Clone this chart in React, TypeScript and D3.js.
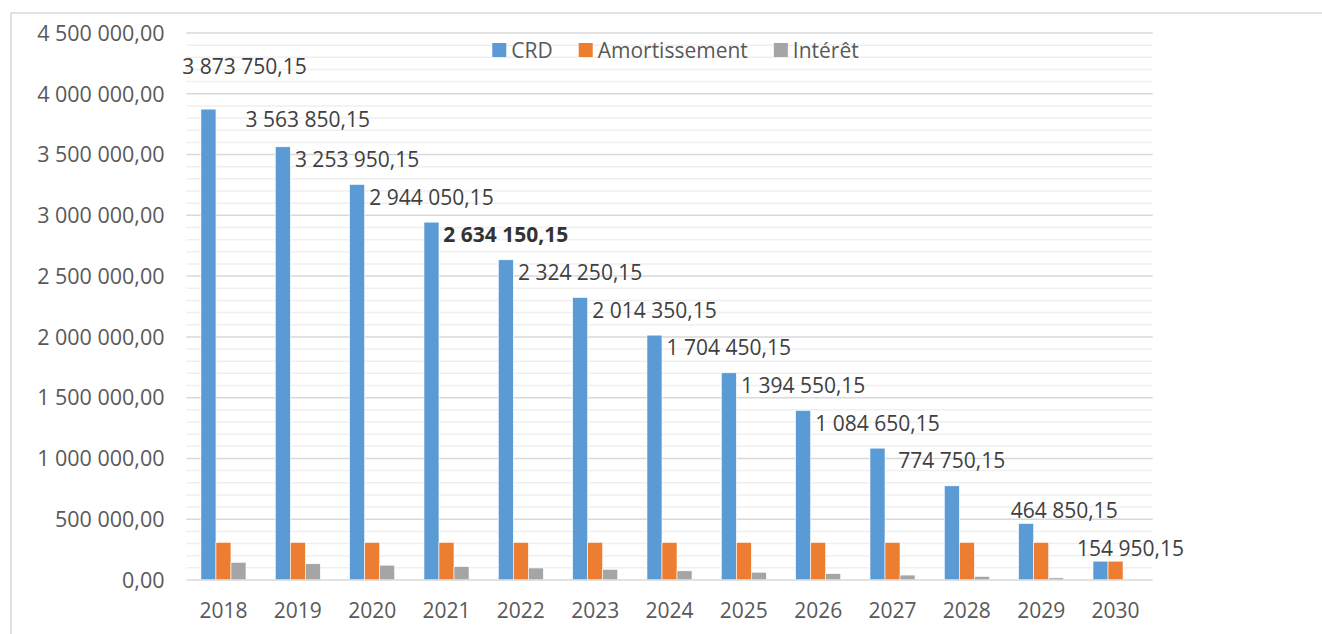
import * as d3 from "d3";
import React, {useEffect, useRef} from "react";

const years = ["2018", "2019", "2020", "2021", "2022", "2023", "2024", "2025", "2026", "2027", "2028", "2029", "2030"];
const crd = [3873750.15, 3563850.15, 3253950.15, 2944050.15, 2634150.15, 2324250.15, 2014350.15, 1704450.15, 1394550.15, 1084650.15, 774750.15, 464850.15, 154950.15];
const amortissement = [309900, 309900, 309900, 309900, 309900, 309900, 309900, 309900, 309900, 309900, 309900, 309900, 154950.15];
const interet = [145300, 133600, 122000, 110400, 98800, 87200, 75500, 63900, 52300, 40700, 29100, 17400, 5800];
const seriesNames = ["CRD", "Amortissement", "Intérêt"];
const seriesColors = ["#5B9BD5", "#ED7D31", "#A5A5A5"];

// labels that were dragged by hand in the original sheet
const labelNudge: Record<string, [number, number]> = {
    "2018": [36, -18],
    "2019": [25, -2],
    "2029": [38, 12],
    "2030": [30, 12]
};
const boldLabel = "2022";

const W = 1322;
const H = 634;
const FONT = "'Open Sans', sans-serif";

const App = () => {
    const ref = useRef<SVGSVGElement>(null);

    useEffect(() => {
        const svg = d3.select(ref.current);
        svg.selectAll("*").remove();

        const left = 186.3, right = 1152.7, top = 33, bottom = 580;

        const fr = d3.formatLocale({decimal: ",", thousands: "\u00a0", grouping: [3], currency: ["", ""]});
        const fmt = fr.format(",.2f");

        const x0 = d3.scaleBand<string>()
            .domain(years)
            .range([left, right])
            .paddingInner(0.394)
            .paddingOuter(0.197);
        const x1 = d3.scaleBand<string>()
            .domain(seriesNames)
            .range([0, x0.bandwidth()]);
        const y = d3.scaleLinear().domain([0, 4500000]).range([bottom, top]);

        // outer border
        svg.append("rect")
            .attr("x", 11).attr("y", 13)
            .attr("width", W + 100).attr("height", H + 100)
            .attr("fill", "white")
            .attr("stroke", "#d9d9d9")
            .attr("stroke-width", 1.5);

        // minor grid
        svg.append("g")
            .selectAll("line")
            .data(d3.range(0, 4500001, 100000).filter(v => v % 500000 !== 0))
            .join("line")
            .attr("x1", left).attr("x2", right)
            .attr("y1", d => y(d)).attr("y2", d => y(d))
            .attr("stroke", "#efefef")
            .attr("stroke-width", 1.5);

        // major grid
        const majorTicks = d3.range(0, 4500001, 500000);
        svg.append("g")
            .selectAll("line")
            .data(majorTicks.filter(v => v > 0))
            .join("line")
            .attr("x1", left).attr("x2", right)
            .attr("y1", d => y(d)).attr("y2", d => y(d))
            .attr("stroke", "#d9d9d9")
            .attr("stroke-width", 1.5);

        // y tick labels
        svg.append("g")
            .selectAll("text")
            .data(majorTicks)
            .join("text")
            .attr("x", 164.5)
            .attr("y", d => y(d) + 7.8)
            .attr("text-anchor", "end")
            .attr("fill", "#595959")
            .style("font", `21.5px ${FONT}`)
            .text(d => fmt(d));

        const values = [crd, amortissement, interet];

        // bars
        const groups = svg.append("g")
            .selectAll("g")
            .data(years)
            .join("g")
            .attr("transform", d => `translate(${x0(d)},0)`);

        groups.selectAll("rect")
            .data((d, i) => seriesNames.map((s, k) => ({s, v: values[k][i]})))
            .join("rect")
            .attr("x", d => x1(d.s)!)
            .attr("width", x1.bandwidth())
            .attr("y", d => y(d.v))
            .attr("height", d => y(0) - y(d.v))
            .attr("fill", (d, k) => seriesColors[k])
            .attr("stroke", "white")
            .attr("stroke-width", 0.6);

        // baseline
        svg.append("line")
            .attr("x1", left).attr("x2", right)
            .attr("y1", y(0)).attr("y2", y(0))
            .attr("stroke", "#d9d9d9")
            .attr("stroke-width", 1.5);

        // CRD data labels
        svg.append("g")
            .selectAll("text")
            .data(years)
            .join("text")
            .attr("x", (d) => x0(d)! + x1("CRD")! + x1.bandwidth() / 2 + (labelNudge[d]?.[0] ?? 0))
            .attr("y", (d, i) => y(crd[i]) - 25 + 7.5 + (labelNudge[d]?.[1] ?? 0))
            .attr("text-anchor", "middle")
            .attr("fill", d => d === boldLabel ? "#333333" : "#404040")
            .attr("font-weight", d => d === boldLabel ? "bold" : "normal")
            .style("font-family", FONT)
            .style("font-size", "21px")
            .text((d, i) => fmt(crd[i]));

        // x labels
        svg.append("g")
            .selectAll("text")
            .data(years)
            .join("text")
            .attr("x", d => x0(d)! + x0.bandwidth() / 2)
            .attr("y", 618)
            .attr("text-anchor", "middle")
            .attr("fill", "#595959")
            .style("font", `21px ${FONT}`)
            .text(d => d);

        // legend
        const legend = svg.append("g");
        let cx = 0;
        seriesNames.forEach((s, k) => {
            const item = legend.append("g").attr("transform", `translate(${cx},0)`);
            item.append("rect")
                .attr("x", 0).attr("y", 43)
                .attr("width", 14).attr("height", 14)
                .attr("fill", seriesColors[k]);
            const t = item.append("text")
                .attr("x", 19).attr("y", 57.5)
                .attr("fill", "#595959")
                .style("font", `21px ${FONT}`)
                .text(s);
            const tw = (t.node() as SVGTextElement).getComputedTextLength();
            cx += 19 + tw + 26;
        });
        const legendWidth = cx - 26;
        legend.attr("transform", `translate(${675.5 - legendWidth / 2},0)`);
    }, []);

    return (
        <svg ref={ref} width={W} height={H}
             style={{position: "absolute", left: 0, top: 0, display: "block", background: "white"}}/>
    );
};

export default App;
